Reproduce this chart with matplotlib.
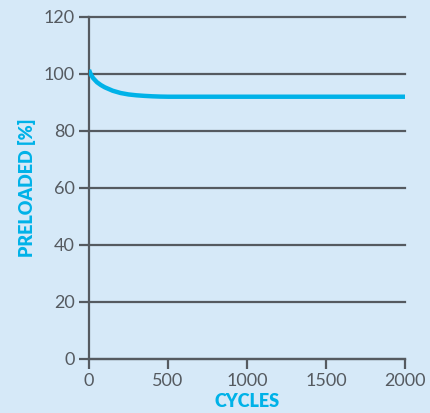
import numpy as np
from matplotlib import pyplot as plt

cycles = [0, 10, 25, 50, 75, 100, 150, 200, 250, 300, 350, 400, 450, 500, 1000, 1500, 2000]
preload = [101.4, 100.0, 98.6, 97.1, 96.1, 95.3, 94.1, 93.3, 92.8, 92.5, 92.3, 92.15, 92.05, 92.0, 92.0, 92.0, 92.0]

yticks = [0, 20, 40, 60, 80, 100, 120]
xticks = [0, 500, 1000, 1500, 2000]

bg = '#d6e9f8'
grid_col = '#555a60'
blue = '#00b2e8'

plt.rcParams['font.family'] = ['Lato', 'DejaVu Sans']

fig = plt.figure(figsize=(4.30, 4.13), dpi=100, facecolor=bg)
ax = fig.add_axes([0.207, 0.131, 0.735, 0.828], facecolor=bg)

for y in yticks:
	ax.axhline(y, color=grid_col, lw=1.6, zorder=1, clip_on=False)
ax.plot(cycles, preload, color=blue, lw=3.2, solid_capstyle='butt', zorder=3)

ax.set_xlim(0, 2000)
ax.set_ylim(0, 120)
ax.set_xticks(xticks)
ax.set_yticks(yticks)

for s in ['top', 'right']:
	ax.spines[s].set_visible(False)
for s in ['left', 'bottom']:
	ax.spines[s].set_color(grid_col)
	ax.spines[s].set_linewidth(1.6)

ax.tick_params(axis='both', colors=grid_col, labelsize=13, width=1.6, length=7, pad=3)

ax.set_xlabel('CYCLES', color=blue, fontsize=13, fontweight='heavy', labelpad=3)
ax.set_ylabel('PRELOADED [%]', color=blue, fontsize=13, fontweight='heavy', labelpad=6)

fig.savefig('out.png', dpi=100, facecolor=bg)
